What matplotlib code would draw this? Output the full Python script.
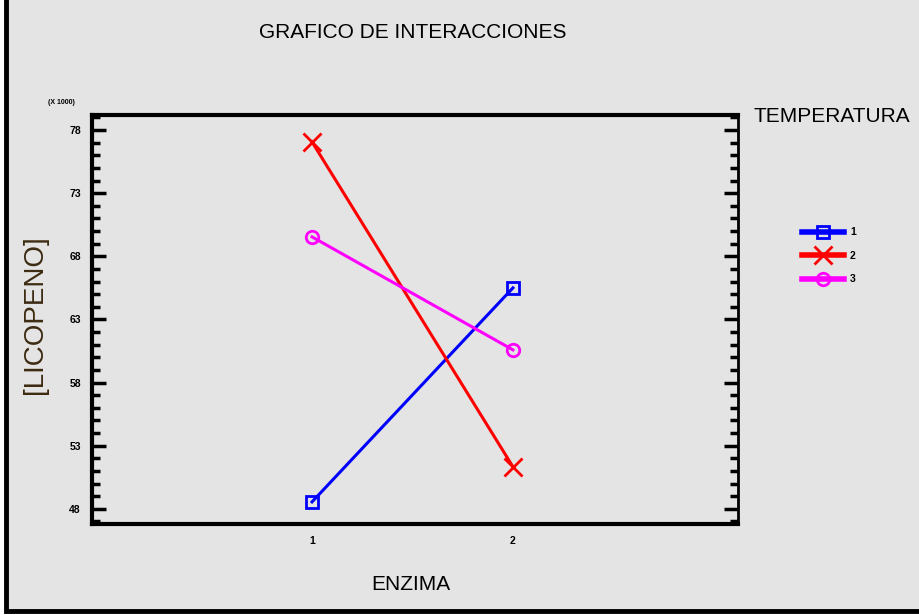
import matplotlib
matplotlib.use("Agg")
import matplotlib.pyplot as plt
from matplotlib.patches import Rectangle
from matplotlib.ticker import MultipleLocator, FixedLocator

# Interaction plot: mean lycopene (x 1000) by enzyme level, one line per temperature
enzima = [1, 2]
temperaturas = ["1", "2", "3"]
licopeno_t1 = [48.55, 65.5]
licopeno_t2 = [77.06, 51.33]
licopeno_t3 = [69.54, 60.59]
y_ticks = [48, 53, 58, 63, 68, 73, 78]

series = [licopeno_t1, licopeno_t2, licopeno_t3]
colors = ["#0000ff", "#ff0000", "#ff00ff"]
markers = ["s", "x", "o"]

font = ["Liberation Sans", "DejaVu Sans"]
bg = "#e4e4e4"

fig = plt.figure(figsize=(9.19, 6.15), dpi=100, facecolor="white")
# outer panel with black frame
fig.patches.append(Rectangle((6 / 919, 4 / 615), 1.2, 1.2, transform=fig.transFigure,
                             facecolor=bg, edgecolor="black", linewidth=3.5, zorder=-10))

ax = fig.add_axes([92 / 919, 1 - 524 / 615, (738 - 92) / 919, (524 - 115) / 615])
ax.set_facecolor(bg)
ax.set_xlim(-0.095, 3.12)
ax.set_ylim(46.8, 79.19)

for vals, c, m, lab in zip(series, colors, markers, temperaturas):
    ax.plot(enzima, vals, color=c, linewidth=2.2, marker=m, markersize=9 if m != "x" else 13,
            markerfacecolor="none", markeredgecolor=c, markeredgewidth=2, label=lab)

for side in ["left", "bottom", "top"]:
    ax.spines[side].set_linewidth(3)
ax.spines["right"].set_linewidth(2)

ax.yaxis.set_major_locator(FixedLocator(y_ticks))
ax.yaxis.set_minor_locator(MultipleLocator(1))
ax.set_yticklabels([str(v) for v in y_ticks], fontsize=7.5, fontweight="bold", family=font)
ax.tick_params(axis="y", which="major", direction="in", length=10, width=2.5,
               left=True, right=True, pad=8)
ax.tick_params(axis="y", which="minor", direction="in", length=6, width=2.5,
               left=True, right=True)
ax.set_xticks(enzima)
ax.set_xticklabels([str(v) for v in enzima], fontsize=7.5, fontweight="bold", family=font)
ax.tick_params(axis="x", length=0, pad=9)

fig.text(61 / 919, 1 - 103 / 615, "(X 1000)", fontsize=5, fontweight="bold",
         family=font, ha="center", va="center")
fig.text(413 / 919, 1 - 33 / 615, "GRAFICO DE INTERACCIONES", fontsize=15,
         family=font, ha="center", va="center")
fig.text(832 / 919, 1 - 117 / 615, "TEMPERATURA", fontsize=15,
         family=font, ha="center", va="center")
fig.text(35 / 919, 1 - 315 / 615, "[LICOPENO]", fontsize=20, rotation=90,
         family=font, ha="center", va="center", color="#3d2b12")
fig.text(411 / 919, 1 - 585 / 615, "ENZIMA", fontsize=15,
         family=font, ha="center", va="center")

leg = fig.legend(loc="upper left", bbox_to_anchor=(797 / 919, 1 - 222 / 615),
                 frameon=False, prop={"family": font, "weight": "bold", "size": 7.5},
                 handlelength=4, handletextpad=0.6, labelspacing=1.3, borderpad=0)
for line in leg.get_lines():
    line.set_linewidth(4)

fig.savefig("out.png", dpi=100, facecolor="white")
